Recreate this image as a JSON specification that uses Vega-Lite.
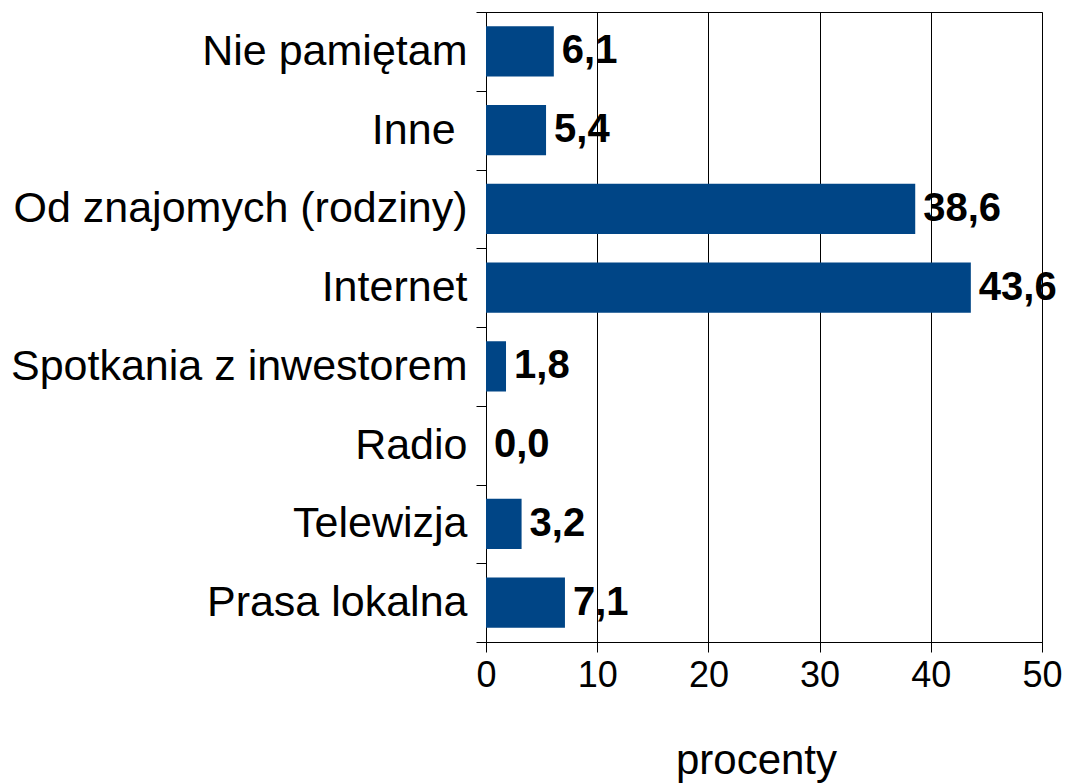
{
  "$schema": "https://vega.github.io/schema/vega-lite/v6.json",
  "autosize": "none",
  "padding": {"left": 486, "top": 12, "right": 23, "bottom": 142},
  "width": 556,
  "height": 630,
  "background": "white",
  "config": {
    "locale": {"number": {"decimal": ",", "thousands": " ", "grouping": [3], "currency": ["", " zł"]}},
    "font": "Liberation Sans",
    "view": {"stroke": "black", "strokeWidth": 1}
  },
  "data": {
    "values": [
      {"kategoria": "Nie pamiętam", "procent": 6.1},
      {"kategoria": "Inne\u00a0\u2060", "procent": 5.4},
      {"kategoria": "Od znajomych (rodziny)", "procent": 38.6},
      {"kategoria": "Internet", "procent": 43.6},
      {"kategoria": "Spotkania z inwestorem", "procent": 1.8},
      {"kategoria": "Radio", "procent": 0.0},
      {"kategoria": "Telewizja", "procent": 3.2},
      {"kategoria": "Prasa lokalna", "procent": 7.1}
    ]
  },
  "encoding": {
    "y": {
      "field": "kategoria",
      "type": "nominal",
      "sort": null,
      "scale": {"paddingInner": 0, "paddingOuter": 0},
      "axis": {
        "title": null,
        "labelFont": "Liberation Sans",
        "labelFontSize": 43,
        "labelColor": "black",
        "labelPadding": 9,
        "labelLimit": 0,
        "tickBand": "extent",
        "tickSize": 10,
        "tickColor": "black",
        "domainColor": "black",
        "grid": false
      }
    },
    "x": {
      "field": "procent",
      "type": "quantitative",
      "scale": {"domain": [0, 50], "nice": false},
      "axis": {
        "title": "procenty",
        "titleFont": "Liberation Sans",
        "titleFontSize": 42,
        "titleFontWeight": "normal",
        "titleColor": "black",
        "titlePadding": 47,
        "titleX": 270,
        "values": [0, 10, 20, 30, 40, 50],
        "labelFont": "Liberation Sans",
        "labelFontSize": 36,
        "labelColor": "black",
        "labelPadding": 6,
        "labelFlush": false,
        "tickSize": 10,
        "tickColor": "black",
        "domainColor": "black",
        "grid": true,
        "gridColor": "black",
        "gridOpacity": 1,
        "gridWidth": 1
      }
    }
  },
  "layer": [
    {"mark": {"type": "bar", "color": "#004586", "height": {"band": 0.635}}},
    {
      "mark": {"type": "text", "align": "left", "baseline": "middle", "dx": 8, "fontSize": 40, "fontWeight": "bold", "color": "black", "font": "Liberation Sans"},
      "encoding": {"text": {"field": "procent", "type": "quantitative", "format": ".1f"}}
    }
  ]
}
